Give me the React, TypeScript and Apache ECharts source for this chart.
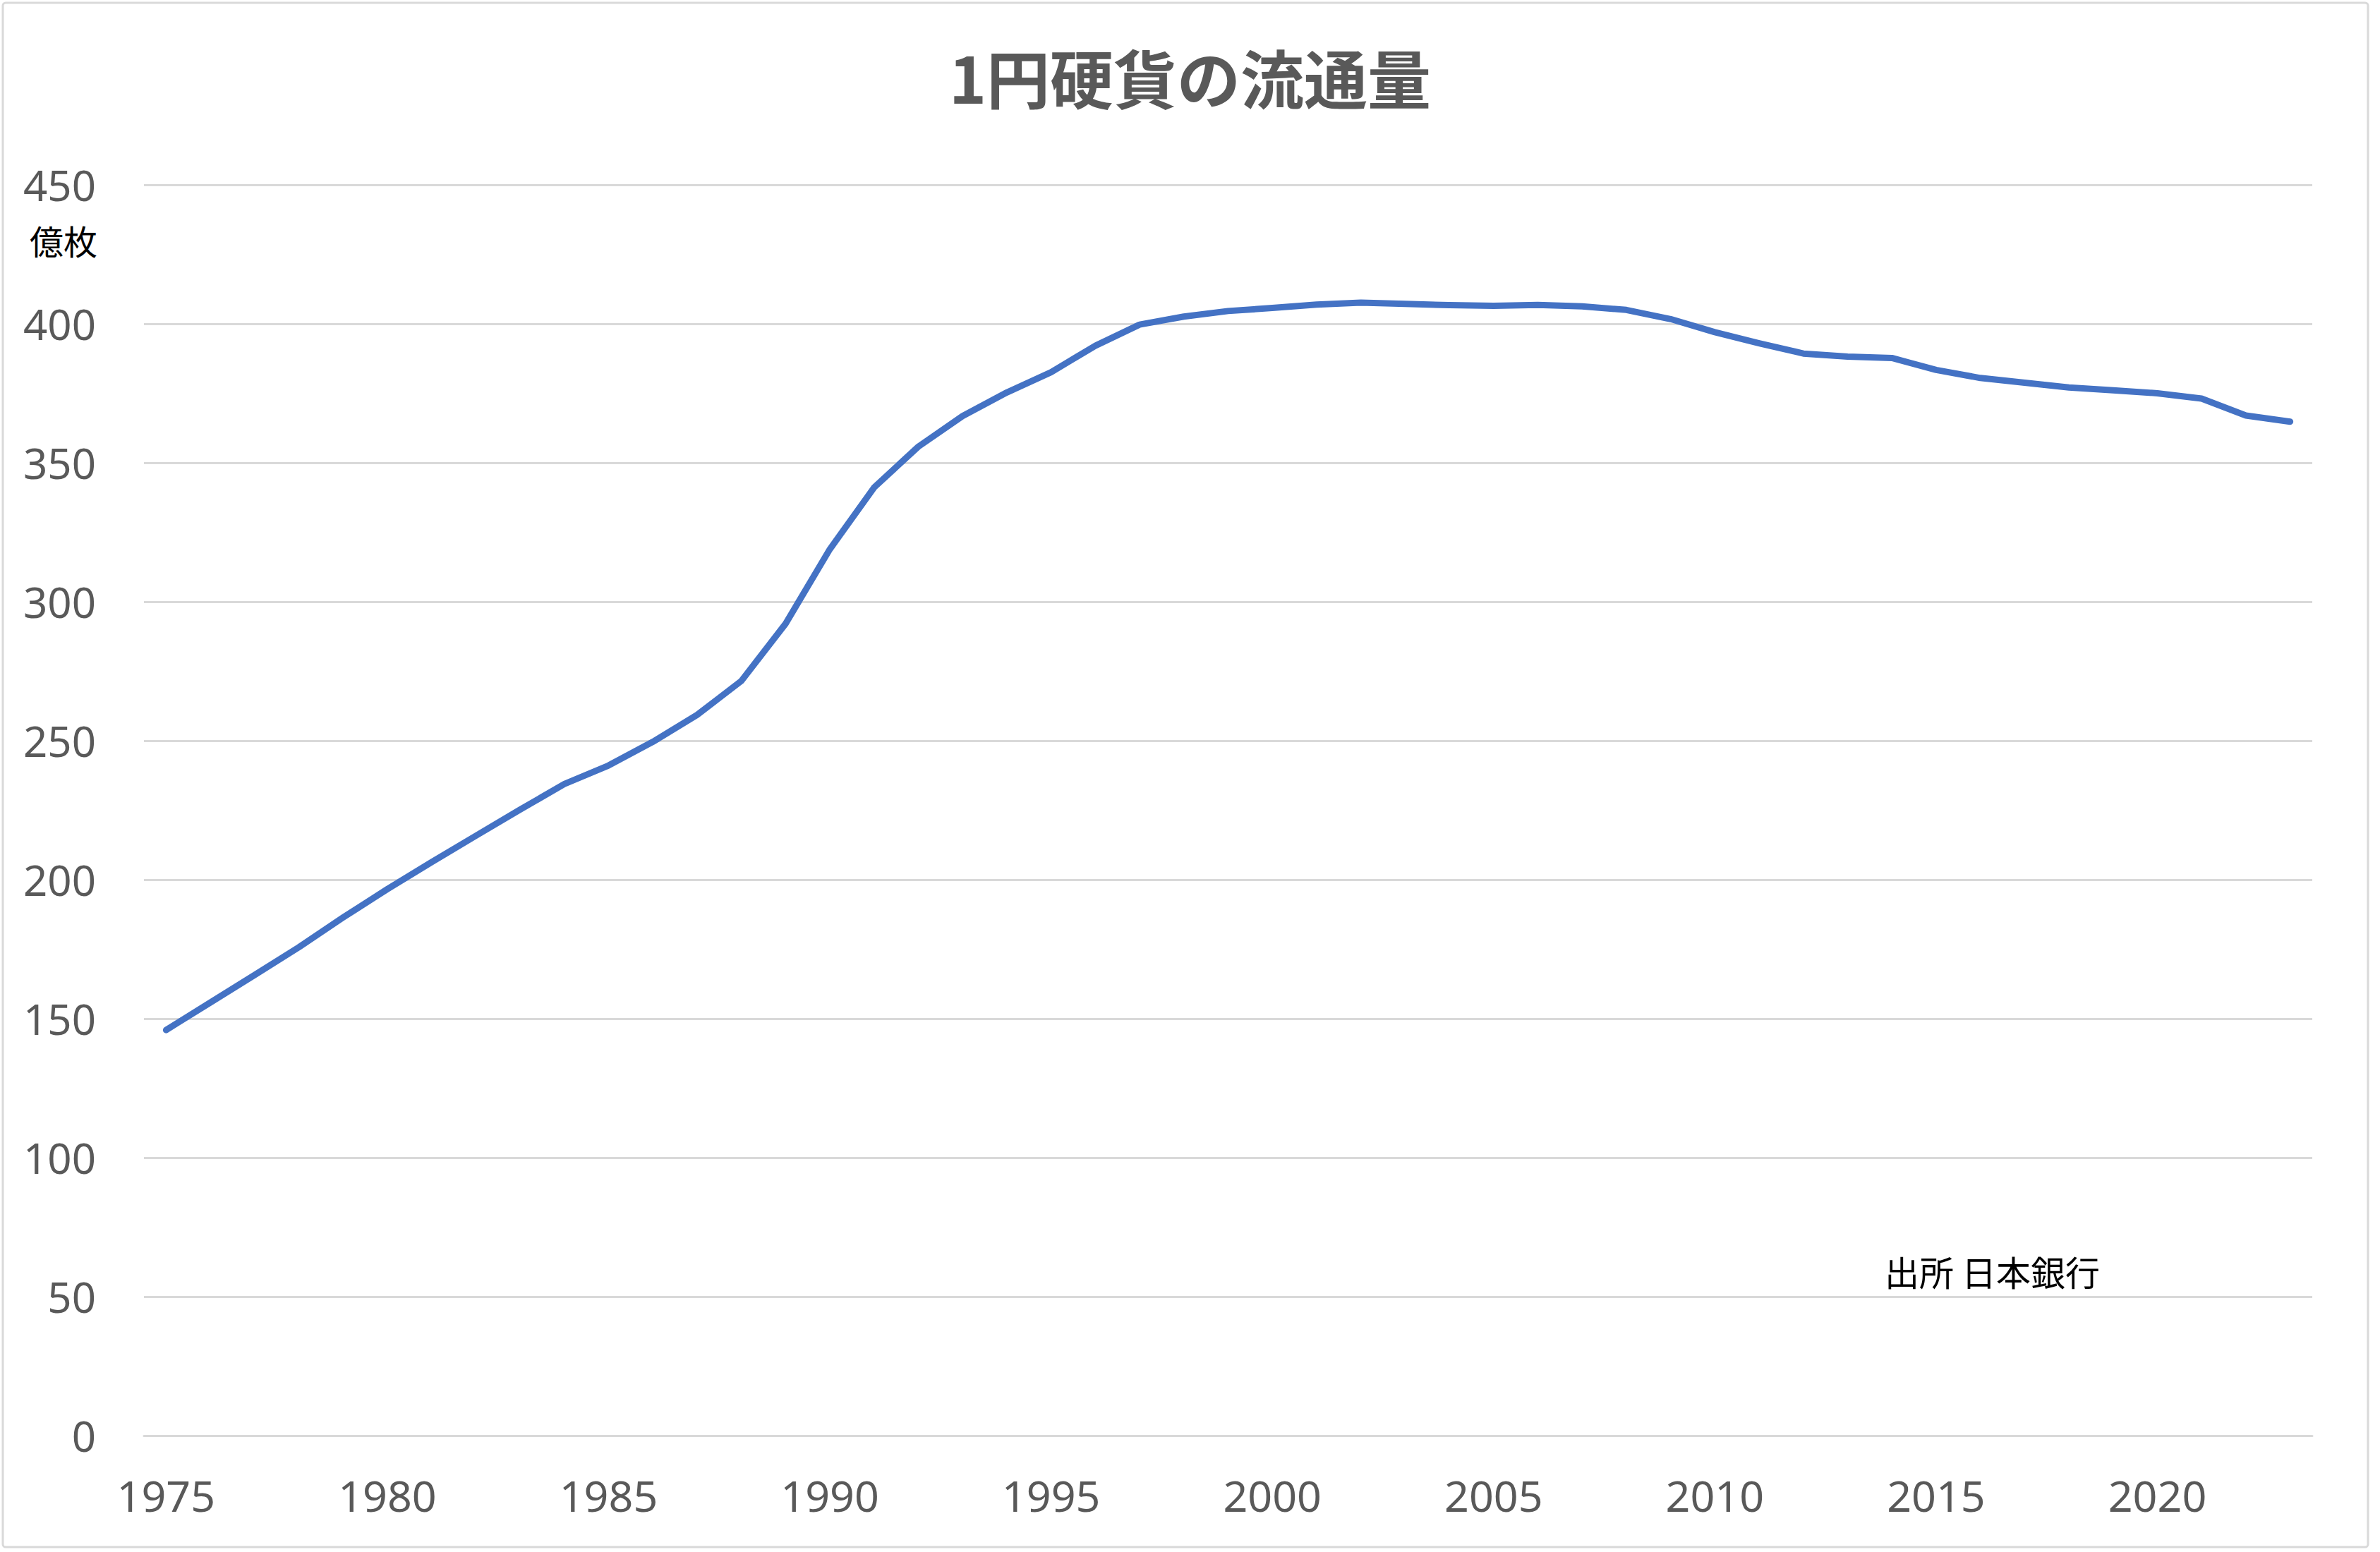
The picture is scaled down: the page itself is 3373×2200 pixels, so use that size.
import React, { useEffect, useRef } from "react";
import * as echarts from "echarts";

const years: string[] = [
  "1975","1976","1977","1978","1979","1980","1981","1982","1983","1984",
  "1985","1986","1987","1988","1989","1990","1991","1992","1993","1994",
  "1995","1996","1997","1998","1999","2000","2001","2002","2003","2004",
  "2005","2006","2007","2008","2009","2010","2011","2012","2013","2014",
  "2015","2016","2017","2018","2019","2020","2021","2022","2023",
];

const circulation: number[] = [
  145.9, 155.8, 165.7, 175.7, 186.4, 196.6, 206.3, 215.8, 225.2, 234.4,
  241.1, 249.6, 259.3, 271.5, 292.1, 318.9, 341.1, 355.8, 366.8, 375.3,
  382.6, 392.1, 399.7, 402.6, 404.6, 405.7, 406.9, 407.6, 407.2, 406.7,
  406.5, 406.8, 406.3, 405.0, 401.7, 397.0, 393.0, 389.3, 388.2, 387.7,
  383.4, 380.5, 378.8, 377.1, 376.1, 375.0, 373.1, 367.0, 364.8,
];

const titleText = "1円硬貨の流通量";
const unitText = "億枚";
const sourceText = "出所 日本銀行";

const CJK = '"Noto Sans CJK JP", "Noto Sans", sans-serif';
const NUM = '"Noto Sans", "Noto Sans CJK JP", sans-serif';

export default function App() {
  const ref = useRef<HTMLDivElement>(null);

  useEffect(() => {
    document.body.style.margin = "0";
    const chart = echarts.init(ref.current as HTMLDivElement, undefined, { renderer: "svg" });
    chart.setOption({
      animation: false,
      backgroundColor: "#ffffff",
      title: {
        text: titleText,
        left: "center",
        top: 58,
        textStyle: {
          fontFamily: CJK,
          fontSize: 90,
          fontWeight: "bold",
          color: "#595959",
        },
      },
      grid: { left: 204, right: 96, top: 262, bottom: 165 },
      xAxis: {
        type: "category",
        data: years,
        boundaryGap: true,
        axisTick: { show: false },
        axisLine: { lineStyle: { color: "#D9D9D9", width: 3 } },
        axisLabel: {
          interval: 4,
          margin: 54,
          fontFamily: NUM,
          fontSize: 61,
          color: "#595959",
        },
      },
      yAxis: {
        type: "value",
        min: 0,
        max: 450,
        interval: 50,
        axisLine: { show: false },
        axisTick: { show: false },
        splitLine: { lineStyle: { color: "#D9D9D9", width: 3 } },
        axisLabel: {
          margin: 68,
          fontFamily: NUM,
          fontSize: 60,
          color: "#595959",
        },
      },
      series: [
        {
          type: "line",
          data: circulation,
          showSymbol: false,
          symbol: "none",
          smooth: false,
          lineStyle: { color: "#4472C4", width: 9, cap: "round", join: "round" },
        },
      ],
      graphic: [
        {
          type: "rect",
          shape: { x: 4, y: 4, width: 3352, height: 2189, r: 4 },
          style: { fill: "none", stroke: "#D9D9D9", lineWidth: 3 },
          silent: true,
        },
        {
          type: "text",
          x: 138,
          y: 340,
          style: {
            text: unitText,
            fontFamily: CJK,
            fontSize: 48,
            fill: "#000000",
            align: "right",
            verticalAlign: "middle",
          },
        },
        {
          type: "text",
          x: 2671,
          y: 1801,
          style: {
            text: sourceText,
            fontFamily: CJK,
            fontSize: 49,
            fill: "#000000",
            align: "left",
            verticalAlign: "middle",
          },
        },
      ],
    });
    return () => chart.dispose();
  }, []);

  return (
    <div
      ref={ref}
      style={{ position: "fixed", left: 0, top: 0, width: "3373px", height: "2200px" }}
    />
  );
}
